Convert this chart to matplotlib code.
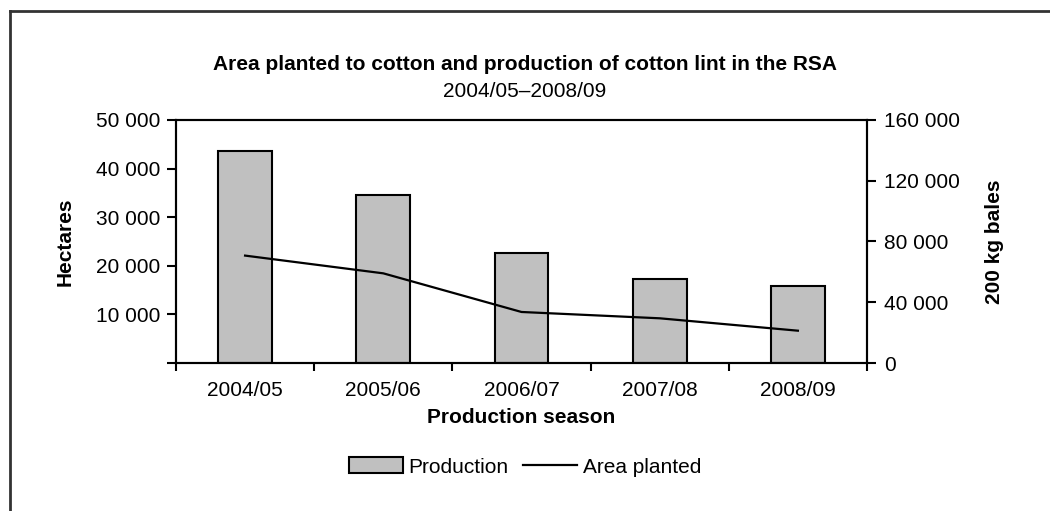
import numpy as np
import matplotlib.pyplot as plt
from matplotlib.lines import Line2D
from matplotlib.patches import Patch

plt.rcParams['font.family'] = ['Liberation Sans', 'DejaVu Sans']

# Dados
seasons = ["2004/05", "2005/06", "2006/07", "2007/08", "2008/09"]
production_bales = [139800, 110600, 72200, 55300, 50900]   # 200 kg bales (eixo direito)
area_ha = [22100, 18450, 10500, 9200, 6650]                # hectares (eixo esquerdo)

left_ticks = [0, 10000, 20000, 30000, 40000, 50000]
left_labels = ["", "10 000", "20 000", "30 000", "40 000", "50 000"]
right_ticks = [0, 40000, 80000, 120000, 160000]
right_labels = ["0", "40 000", "80 000", "120 000", "160 000"]

fs = 15

fig = plt.figure(figsize=(10.5, 5.11), dpi=100)
ax = fig.add_axes([0.1676, 0.2896, 0.6581, 0.4756])
ax2 = ax.twinx()

x = np.arange(len(seasons))

# Barras no eixo direito
ax2.bar(x, production_bales, width=0.39, color="#c0c0c0", edgecolor="black", linewidth=1.5)
ax2.set_ylim(0, 160000)
ax2.set_yticks(right_ticks)
ax2.set_yticklabels(right_labels)

# Linha no eixo esquerdo, por cima das barras
ax.set_zorder(ax2.get_zorder() + 1)
ax.patch.set_visible(False)
ax.plot(x, area_ha, color="black", linewidth=1.6)
ax.set_ylim(0, 50000)
ax.set_yticks(left_ticks)
ax.set_yticklabels(left_labels)

ax.set_xlim(-0.5, len(seasons) - 0.5)
ax.set_xticks(np.arange(-0.5, len(seasons), 1.0))
ax.set_xticklabels([""] * (len(seasons) + 1))
ax.set_xticks(x, minor=True)
ax.set_xticklabels(seasons, minor=True)
ax.tick_params(axis="x", which="minor", length=0, pad=13, labelsize=fs)
ax.tick_params(axis="x", which="major", length=6, width=1.5)

for a in (ax, ax2):
    for s in a.spines.values():
        s.set_linewidth(1.5)
ax.tick_params(axis="y", length=6.5, width=1.5, labelsize=fs, pad=5)
ax2.tick_params(axis="y", length=6.5, width=1.5, labelsize=fs, pad=6)

ax.set_ylabel("Hectares", fontsize=fs, fontweight="bold", labelpad=15)
ax2.set_ylabel("200 kg bales", fontsize=fs, fontweight="bold", labelpad=18)
ax.set_xlabel("Production season", fontsize=fs, fontweight="bold", labelpad=6)

fig.text(0.5, 1 - 65 / 511, "Area planted to cotton and production of cotton lint in the RSA",
         ha="center", va="center", fontsize=fs, fontweight="bold")
fig.text(0.5, 1 - 91 / 511, "2004/05\u20132008/09", ha="center", va="center", fontsize=fs)

handles = [Patch(facecolor="#c0c0c0", edgecolor="black", linewidth=1.5),
           Line2D([0], [0], color="black", linewidth=1.6)]
fig.legend(handles, ["Production", "Area planted"], loc="center", bbox_to_anchor=(0.5, 1 - 467 / 511),
           ncol=2, frameon=False, fontsize=fs, handlelength=2.6, handleheight=0.77,
           handletextpad=0.25, columnspacing=0.7)

# Moldura externa (só esquerda e topo)
fig.add_artist(Line2D([10 / 1050, 10 / 1050], [0, 1 - 11 / 511], color="#333333", linewidth=2, transform=fig.transFigure))
fig.add_artist(Line2D([10 / 1050, 1], [1 - 11 / 511, 1 - 11 / 511], color="#333333", linewidth=2, transform=fig.transFigure))

plt.savefig("out.png", dpi=100)
